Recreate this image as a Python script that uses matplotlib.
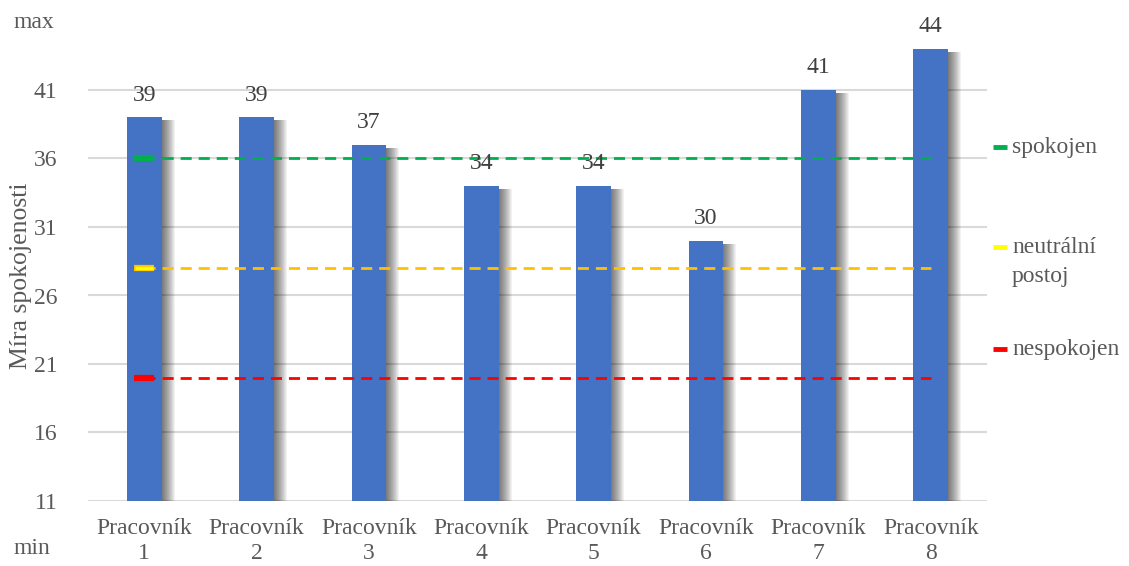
import numpy as np
import matplotlib
matplotlib.use("Agg")
import matplotlib.pyplot as plt
from matplotlib.lines import Line2D

plt.rcParams['font.family'] = ['Liberation Serif', 'DejaVu Serif']

# Data
workers = ["Pracovník\n1", "Pracovník\n2", "Pracovník\n3", "Pracovník\n4",
           "Pracovník\n5", "Pracovník\n6", "Pracovník\n7", "Pracovník\n8"]
scores = [39, 39, 37, 34, 34, 30, 41, 44]

levels = [36, 28, 20]
level_names = ["spokojen", "neutrální\npostoj", "nespokojen"]
level_colors = ["#00B050", "#FFC000", "#FF0000"]
level_marker_colors = ["#00B050", "#FFFF00", "#FF0000"]

y_ticks = [11, 16, 21, 26, 31, 36, 41]
y_min, y_max = 11, 46

BAR_COLOR = "#4472C4"
TEXT_COLOR = "#595959"


def main():
    W, H = 1129, 566
    fig = plt.figure(figsize=(W / 100, H / 100), dpi=100)
    ax = fig.add_axes([88 / W, 1 - 501 / H, (987 - 88) / W, (501 - 21.5) / H])

    x = np.arange(len(scores))
    bar_w = 0.31
    px = 1 / 112.3  # one pixel in category units
    py = 35 / 479.5  # one pixel in value units

    # soft shadow: stacked translucent copies shifted right/down
    for k in range(1, 14):
        ax.bar(x + k * px, np.array(scores) - y_min - 3 * py, width=bar_w,
               bottom=y_min, color="black", alpha=0.05, linewidth=0, zorder=2)

    ax.bar(x, np.array(scores) - y_min, width=bar_w, bottom=y_min,
           color=BAR_COLOR, linewidth=0, zorder=3)

    for xi, s in zip(x, scores):
        ax.annotate(str(s), (xi, s), xytext=(0, 12), textcoords="offset points",
                    ha="center", va="baseline", fontsize=17, color="#404040", zorder=5)

    # threshold lines with a marker on the first point
    for lv, c, mc in zip(levels, level_colors, level_marker_colors):
        ax.plot([x[0], x[-1]], [lv, lv], color=c, lw=2, dashes=(4, 2.5), zorder=4)
        ax.plot([x[0]], [lv], marker="_", markersize=15, markeredgewidth=4.5,
                color=c, zorder=4)
        if mc != c:
            ax.plot([x[0]], [lv], marker="_", markersize=13, markeredgewidth=2.5,
                    color=mc, zorder=4)

    ax.set_xlim(-0.5, len(scores) - 0.5)
    ax.set_ylim(y_min, y_max)
    ax.set_yticks(y_ticks)
    ax.set_xticks(x)
    ax.set_xticklabels(workers, linespacing=1.3)
    ax.tick_params(axis="both", length=0, labelsize=17, labelcolor=TEXT_COLOR)
    ax.tick_params(axis="y", pad=22)
    ax.tick_params(axis="x", pad=12)
    ax.grid(axis="y", color="#D9D9D9", lw=1.5, zorder=0)
    ax.set_axisbelow(True)
    for sp in ax.spines.values():
        sp.set_visible(False)

    fig.text(21 / W, 1 - 276 / H, "Míra spokojenosti", fontsize=18.5,
             color=TEXT_COLOR, rotation=90, ha="center", va="center")

    fig.text(14 / W, 1 - 22 / H, "max", fontsize=17, color=TEXT_COLOR,
             ha="left", va="center")
    fig.text(14 / W, 1 - 548 / H, "min", fontsize=17, color=TEXT_COLOR,
             ha="left", va="center")

    # legend on the right side
    marker_y = [147, 247, 349]
    text_y = [147, 262, 349]
    for name, mc, c, my, ty in zip(level_names, level_marker_colors, level_colors,
                                   marker_y, text_y):
        fig.add_artist(Line2D([993 / W, 1007 / W], [1 - my / H, 1 - my / H],
                              color=mc, lw=3.5, solid_capstyle="butt"))
        fig.text(1012 / W, 1 - ty / H, name, fontsize=17, color=TEXT_COLOR,
                 ha="left", va="center", linespacing=1.45)

    fig.savefig("out.png", dpi=100)


if __name__ == "__main__":
    main()
